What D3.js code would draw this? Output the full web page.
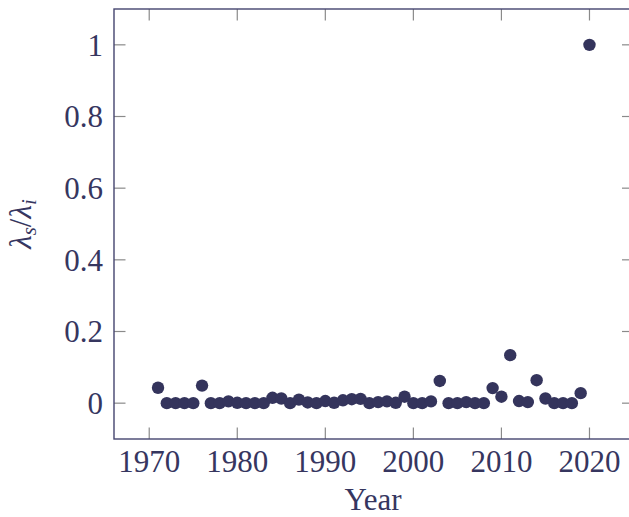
<!DOCTYPE html>
<html>
<head>
<meta charset="utf-8">
<script src="https://cdn.jsdelivr.net/npm/d3@7"></script>
</head>
<body style="margin:0;background:#fff">
<svg id="chart" width="629" height="517" style="display:block"></svg>
<script>
const years = [1971,1972,1973,1974,1975,1976,1977,1978,1979,1980,
               1981,1982,1983,1984,1985,1986,1987,1988,1989,1990,
               1991,1992,1993,1994,1995,1996,1997,1998,1999,2000,
               2001,2002,2003,2004,2005,2006,2007,2008,2009,2010,
               2011,2012,2013,2014,2015,2016,2017,2018,2019,2020];
const ratios = [0.043,0,0,0,0,0.049,0,0,0.005,0.001,
                0,0,0,0.015,0.013,0,0.010,0.002,0,0.006,
                0.001,0.008,0.011,0.012,0,0.003,0.005,0.001,0.018,0,
                0,0.005,0.062,0,0,0.003,0,0,0.042,0.018,
                0.134,0.006,0.003,0.064,0.013,0,0,0,0.028,1.0];
const xTicks = [1970,1980,1990,2000,2010,2020];
const yTicks = [0,0.2,0.4,0.6,0.8,1];
const xTitle = "Year";

const FONT = "'Liberation Serif', 'Times New Roman', serif";
const textColor = "#36365f";
const svg = d3.select("#chart");
const pL = 114, pR = 633.5, pT = 9, pB = 439;
const x = d3.scaleLinear().domain([1966, 2025]).range([pL, pR]);
const y = d3.scaleLinear().domain([-0.1, 1.1]).range([pB, pT]);

const axisColor = "#45456f";
const tickColor = "#8a8a8a";
const dotColor = "#34345c";
const tickLen = 11.5;

function styleText(sel, size) {
  return sel.attr("font-family", "Liberation Serif")
    .style("font-family", FONT).style("font-size", size + "px")
    .attr("fill", textColor);
}

// ticks (inward, on all four sides)
const tk = svg.append("g").attr("stroke", tickColor).attr("stroke-width", 1.2);
xTicks.forEach(v => {
  tk.append("line").attr("x1", x(v)).attr("x2", x(v)).attr("y1", pB).attr("y2", pB - tickLen);
  tk.append("line").attr("x1", x(v)).attr("x2", x(v)).attr("y1", pT).attr("y2", pT + tickLen);
});
yTicks.forEach(v => {
  tk.append("line").attr("y1", y(v)).attr("y2", y(v)).attr("x1", pL).attr("x2", pL + tickLen);
  tk.append("line").attr("y1", y(v)).attr("y2", y(v)).attr("x1", pR).attr("x2", pR - tickLen);
});

// frame
svg.append("rect").attr("x", pL).attr("y", pT).attr("width", pR - pL).attr("height", pB - pT)
  .attr("fill", "none").attr("stroke", axisColor).attr("stroke-width", 1.4);

// tick labels
xTicks.forEach(d => {
  styleText(svg.append("text"), 31)
    .attr("x", x(d)).attr("y", 471.5).attr("text-anchor", "middle").text(d);
});
yTicks.forEach(d => {
  styleText(svg.append("text"), 31)
    .attr("x", 103).attr("y", y(d) + 10.8).attr("text-anchor", "end").text(d3.format("~g")(d));
});

// axis titles
styleText(svg.append("text"), 31)
  .attr("x", 373).attr("y", 510).attr("text-anchor", "middle").text(xTitle);

const yl = styleText(svg.append("text"), 31)
  .attr("transform", `translate(31, ${(pT + pB) / 2}) rotate(-90)`)
  .attr("text-anchor", "middle");
yl.append("tspan").style("font-style", "italic").text("λ");
yl.append("tspan").style("font-style", "italic").style("font-size", "21px").attr("dy", 5).text("s");
yl.append("tspan").attr("dy", -5).text("/");
yl.append("tspan").style("font-style", "italic").text("λ");
yl.append("tspan").style("font-style", "italic").style("font-size", "21px").attr("dy", 5).text("i");

// points
svg.append("g").selectAll("circle").data(years.map((yr, i) => ({yr, v: ratios[i]}))).join("circle")
  .attr("cx", d => x(d.yr)).attr("cy", d => y(d.v)).attr("r", 6.2).attr("fill", dotColor);
</script>
</body>
</html>
